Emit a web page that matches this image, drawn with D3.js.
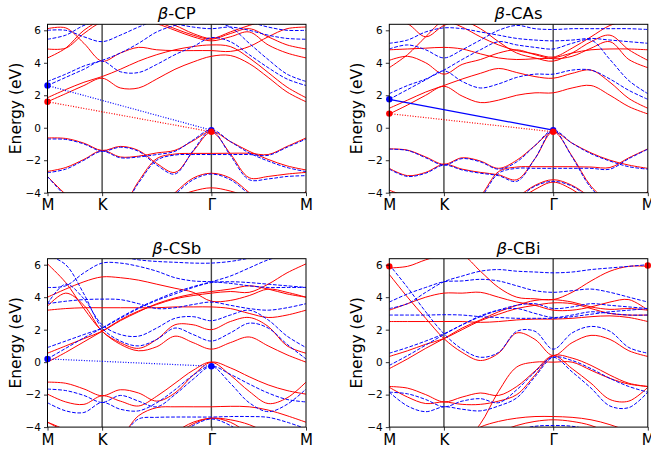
<!DOCTYPE html>
<html>
<head>
<meta charset="utf-8">
<script src="https://cdn.jsdelivr.net/npm/d3@7"></script>
<style>
  body { margin: 0; background: #fff; }
  svg { display: block; font-family: "DejaVu Sans", sans-serif; }
</style>
</head>
<body>
<div id="d3"></div>
<script>
// k-path M -> K -> Γ -> M (hexagonal BZ lengths)
const kPoints = [0, 0.1111, 0.2222, 0.3333, 0.4444, 0.5556, 0.6667, 0.7778, 0.8889, 1.0, 1.1155, 1.2309, 1.3464, 1.4619, 1.5774];
const kTicks = [0, 0.3333, 1.0, 1.5774];
const kLabels = ["M", "K", "Γ", "M"];
const energyTicks = [-4, -2, 0, 2, 4, 6];
const titles = ["CP", "CAs", "CSb", "CBi"];

// band energies (eV) at kPoints, red = solid, blue = dashed
const cpRed = [
  [-0.63, -0.66, -0.95, -1.4, -1.15, -1.4, -2.2, -2.75, -1.45, -0.25, -0.85, -1.45, -1.95, -2.35, -2.6],
  [-2.69, -2.45, -1.95, -1.4, -1.8, -1.75, -1.55, -1.39, -0.8, -0.25, -1.6, -3.08, -3.0, -2.85, -2.75],
  [-5, -5, -5, -5, -5, -3.3, -1.9, -1.62, -1.58, -1.58, -1.57, -1.57, -1.65, -1.15, -0.63],
  [-3.0, -4.1, -5, -5, -5, -5, -5, -4.0, -3.1, -2.8, -3.1, -4.0, -5, -5, -3.9],
  [-5, -5, -5, -5, -5, -5, -4.8, -4.3, -3.9, -3.7, -3.9, -4.3, -4.8, -5, -5],
  [1.6, 2.1, 2.6, 3.05, 2.45, 2.45, 3.0, 3.6, 4.05, 4.4, 4.45, 3.95, 3.1, 2.2, 1.6],
  [1.85, 2.35, 2.8, 3.15, 3.6, 4.1, 4.5, 4.8, 5.0, 5.1, 5.0, 4.3, 3.4, 2.5, 1.85],
  [4.3, 4.9, 6.0, 6.6, 6.6, 6.6, 6.4, 6.0, 5.6, 5.35, 5.6, 5.9, 5.1, 4.6, 4.3],
  [4.85, 4.9, 5.8, 6.5, 6.5, 6.5, 6.5, 6.1, 5.7, 5.45, 5.8, 6.1, 5.6, 5.1, 4.85],
  [6.1, 6.15, 5.2, 4.1, 4.6, 4.95, 4.8, 4.75, 4.75, 4.75, 4.7, 5.0, 5.6, 6.1, 6.2],
  [6.6, 6.6, 6.6, 6.6, 6.6, 6.6, 6.6, 6.3, 5.8, 5.5, 5.9, 6.3, 6.6, 6.6, 6.6]
];
const cpBlue = [
  [-0.7, -0.72, -1.0, -1.45, -1.2, -1.45, -2.3, -2.85, -1.4, -0.15, -0.85, -1.55, -2.05, -2.45, -2.7],
  [-2.77, -2.55, -2.0, -1.45, -1.85, -1.8, -1.65, -1.45, -0.75, -0.15, -1.7, -3.2, -3.15, -3.0, -2.95],
  [-5, -5, -5, -5, -5, -3.4, -2.0, -1.68, -1.65, -1.65, -1.65, -1.65, -1.7, -1.2, -0.7],
  [-3.0, -4.2, -5, -5, -5, -5, -5, -4.1, -3.2, -2.85, -3.2, -4.1, -5, -5, -5],
  [2.6, 3.1, 3.6, 4.1, 3.45, 3.4, 3.9, 4.5, 5.0, 5.55, 5.3, 4.5, 3.7, 3.0, 2.6],
  [2.85, 3.3, 3.8, 4.15, 4.6, 5.2, 5.9, 6.3, 6.5, 6.5, 6.2, 5.2, 4.2, 3.3, 2.85],
  [5.45, 5.7, 6.3, 6.6, 6.6, 6.6, 6.6, 6.4, 6.2, 6.1, 6.2, 6.0, 5.7, 5.5, 5.45],
  [6.0, 6.0, 5.6, 5.3, 5.7, 6.2, 6.6, 6.6, 6.6, 6.6, 6.6, 6.5, 6.2, 6.0, 6.0]
];

const casRed = [
  [-1.3, -1.38, -1.8, -2.25, -1.85, -2.05, -2.5, -2.0, -1.1, -0.25, -0.95, -1.55, -2.0, -2.3, -2.5],
  [-2.5, -2.95, -2.75, -2.25, -2.55, -2.75, -2.9, -3.2, -1.9, -0.25, -1.75, -3.6, -4.6, -5, -5],
  [-5, -5, -5, -5, -5, -4.2, -2.7, -2.42, -2.4, -2.4, -2.4, -2.42, -2.45, -1.85, -1.3],
  [-3.85, -4.3, -5, -5, -5, -5, -5, -4.3, -3.55, -3.2, -3.55, -4.3, -5, -5, -3.9],
  [-5, -5, -5, -5, -5, -5, -4.9, -4.5, -3.8, -3.35, -3.8, -4.6, -5, -5, -5],
  [0.85, 1.4, 2.0, 2.55, 1.95, 1.55, 1.7, 2.0, 2.15, 2.15, 2.45, 2.6, 2.0, 1.3, 0.85],
  [1.2, 1.7, 2.2, 2.6, 3.0, 3.35, 3.65, 3.4, 3.15, 3.05, 3.35, 3.55, 2.8, 1.8, 1.2],
  [3.7, 4.5, 5.6, 6.6, 6.6, 6.1, 5.3, 4.6, 4.3, 4.1, 4.6, 5.3, 5.7, 4.8, 4.15],
  [4.15, 4.4, 4.0, 3.3, 3.9, 4.2, 4.6, 4.8, 4.5, 4.25, 4.4, 4.9, 5.3, 4.2, 3.7],
  [4.8, 4.85, 4.9, 4.95, 4.85, 4.55, 4.3, 4.2, 4.25, 4.3, 4.6, 4.8, 4.85, 4.85, 4.8],
  [6.6, 6.6, 6.6, 6.6, 6.2, 5.6, 5.1, 4.75, 4.55, 4.35, 4.9, 5.6, 6.3, 6.6, 6.6],
  [6.6, 6.4, 5.6, 6.3, 6.6, 6.6, 6.6, 6.6, 6.6, 6.6, 6.6, 6.6, 6.6, 6.6, 6.6]
];
const casBlue = [
  [-1.32, -1.4, -1.85, -2.3, -1.9, -2.1, -2.55, -2.1, -1.1, -0.15, -0.95, -1.6, -2.05, -2.4, -2.55],
  [-2.55, -3.0, -2.8, -2.3, -2.6, -2.8, -2.95, -3.3, -1.9, -0.15, -1.8, -3.7, -4.7, -5, -5],
  [-5, -5, -5, -5, -5, -4.3, -2.8, -2.5, -2.5, -2.5, -2.5, -2.5, -2.55, -1.9, -1.32],
  [-5, -5, -5, -5, -5, -5, -5, -4.4, -3.6, -3.3, -3.6, -4.4, -5, -5, -5],
  [1.75, 2.35, 2.95, 3.5, 2.85, 2.45, 2.7, 3.1, 3.3, 3.3, 3.55, 3.55, 3.0, 2.3, 1.75],
  [2.1, 2.6, 3.0, 3.55, 4.2, 4.8, 5.3, 5.1, 4.95, 4.85, 5.2, 5.4, 4.2, 2.9, 2.1],
  [4.85, 5.1, 4.8, 4.3, 4.8, 5.4, 6.0, 6.3, 6.1, 6.05, 6.1, 6.1, 6.1, 6.1, 6.05],
  [5.2, 5.4, 5.9, 6.15, 6.1, 5.9, 5.7, 5.5, 5.4, 5.35, 5.4, 5.5, 5.4, 5.3, 5.2]
];

const csbRed = [
  [-1.23, -1.3, -1.65, -2.07, -1.7, -1.9, -2.4, -1.9, -0.8, 0.0, -0.35, -0.9, -1.4, -1.75, -1.97],
  [-1.97, -2.45, -2.6, -2.07, -2.4, -2.7, -2.1, -1.3, -0.5, 0.0, -0.8, -1.8, -2.55, -2.2, -1.23],
  [-3.7, -4.3, -5, -5, -4.6, -3.3, -2.8, -2.75, -2.75, -2.75, -2.72, -2.75, -2.95, -3.3, -3.7],
  [-3.7, -4.2, -5, -5, -5, -5, -5, -4.5, -3.8, -3.45, -3.7, -4.4, -5, -5, -5],
  [-5, -5, -5, -5, -5, -5, -4.9, -4.3, -3.7, -3.45, -3.55, -3.85, -4.4, -5, -5],
  [0.0, 0.6, 1.25, 1.9, 2.6, 3.15, 3.55, 3.9, 4.1, 4.25, 4.35, 4.3, 4.8, 5.5, 6.05],
  [0.55, 1.0, 1.45, 1.9, 2.55, 3.1, 3.6, 3.95, 4.2, 4.35, 4.5, 4.7, 4.5, 4.2, 4.0],
  [6.05, 4.9, 3.3, 1.9, 1.1, 0.7, 0.95, 1.6, 1.2, 0.8, 1.2, 1.55, 1.0, 0.45, 0.0],
  [3.45, 4.25, 3.5, 1.9, 1.2, 0.85, 1.4, 2.3, 2.3, 2.0, 2.5, 2.75, 2.2, 1.0, 0.55],
  [3.2, 3.3, 3.35, 3.35, 3.35, 3.35, 3.35, 3.4, 3.4, 3.4, 3.3, 3.0, 2.75, 2.9, 3.2],
  [4.0, 4.5, 4.95, 5.25, 5.2, 5.05, 4.8, 4.55, 4.3, 3.75, 3.8, 4.1, 4.5, 4.3, 4.0]
];
const csbBlue = [
  [-1.66, -1.75, -2.05, -2.48, -2.05, -2.4, -2.75, -2.0, -1.05, -0.25, -0.75, -1.35, -1.9, -2.3, -2.45],
  [-2.5, -3.0, -3.1, -2.48, -2.9, -3.0, -2.5, -1.7, -0.8, -0.25, -1.3, -2.5, -3.05, -2.6, -1.66],
  [-5, -5, -5, -5, -4.6, -3.5, -3.4, -3.38, -3.38, -3.38, -3.35, -3.35, -3.4, -3.7, -4.1],
  [-5, -5, -5, -5, -5, -5, -5, -4.6, -3.9, -3.5, -3.9, -4.7, -5, -5, -5],
  [0.2, 0.85, 1.5, 2.1, 2.75, 3.35, 3.85, 4.3, 4.65, 4.95, 5.3, 5.8, 6.3, 6.6, 6.6],
  [0.9, 1.3, 1.7, 2.1, 2.7, 3.3, 3.8, 4.2, 4.6, 4.9, 4.95, 4.9, 4.8, 4.7, 4.6],
  [6.6, 6.0, 4.2, 2.1, 1.3, 1.0, 1.4, 2.1, 1.7, 1.3, 1.8, 2.4, 2.1, 1.1, 0.2],
  [3.6, 4.8, 3.9, 2.3, 1.7, 1.6, 2.1, 2.7, 2.8, 2.55, 2.9, 3.2, 2.6, 1.6, 0.9],
  [3.6, 3.75, 3.85, 3.88, 3.85, 3.6, 3.3, 3.35, 3.55, 3.7, 3.5, 3.3, 3.2, 3.35, 3.6],
  [4.6, 4.7, 5.5, 6.1, 6.1, 5.9, 5.6, 5.2, 5.0, 4.95, 4.85, 4.7, 4.6, 4.6, 4.6],
  [6.6, 6.6, 6.6, 6.6, 6.5, 6.3, 6.2, 6.15, 6.1, 6.1, 6.2, 6.4, 6.6, 6.6, 6.6]
];

const cbiRed = [
  [-1.5, -1.6, -2.0, -2.45, -2.15, -1.9, -2.05, -1.5, -0.55, 0.4, -0.4, -1.3, -2.3, -2.4, -1.55],
  [-1.55, -2.15, -2.55, -2.45, -2.6, -2.6, -2.4, -2.0, -0.8, 0.4, 0.25, -0.2, -0.8, -1.3, -1.5],
  [-5, -5, -5, -5, -5, -3.8, -1.8, -0.3, 0.0, 0.0, 0.0, -0.5, -1.0, -1.35, -1.5],
  [-5, -5, -5, -5, -4.7, -4.0, -3.65, -3.45, -3.35, -3.35, -3.4, -3.55, -3.85, -4.3, -5],
  [-5, -5, -5, -5, -5, -4.7, -4.3, -3.9, -3.65, -3.55, -3.65, -3.9, -4.4, -5, -5],
  [5.4, 4.0, 2.7, 1.45, 0.6, 0.1, 0.55, 1.8, 1.4, 0.4, 1.2, 1.65, 1.4, 0.7, 0.35],
  [-0.4, 0.2, 0.85, 1.45, 2.1, 2.6, 3.1, 3.5, 3.8, 3.85, 3.7, 3.4, 3.25, 3.3, 3.2],
  [0.35, 0.7, 1.1, 1.45, 2.0, 2.55, 2.95, 3.3, 3.5, 3.65, 3.6, 3.3, 3.0, 2.9, 2.9],
  [2.5, 2.5, 2.5, 2.5, 2.5, 2.45, 2.5, 2.6, 2.65, 2.65, 2.7, 2.8, 2.85, 2.75, 2.5],
  [3.2, 3.6, 4.0, 4.25, 4.25, 4.3, 4.0, 3.7, 3.5, 3.2, 3.2, 3.4, 3.7, 3.85, 3.2],
  [5.8, 5.9, 6.3, 6.6, 6.6, 5.6, 4.6, 4.0, 3.9, 3.85, 4.3, 5.0, 5.6, 5.9, 5.9]
];
const cbiBlue = [
  [-1.85, -1.95, -2.3, -2.75, -2.4, -2.25, -2.5, -1.7, -0.6, 0.3, -0.6, -1.6, -2.7, -2.8, -1.85],
  [-1.85, -2.7, -3.05, -2.75, -2.9, -3.0, -2.7, -2.2, -0.9, 0.3, 0.1, -0.4, -1.0, -1.5, -1.85],
  [-5, -5, -5, -5, -5, -5, -4.7, -4.2, -3.95, -3.9, -3.95, -4.2, -4.7, -5, -5],
  [6.0, 4.6, 3.1, 1.75, 0.8, 0.3, 0.6, 1.9, 1.9, 0.8, 1.8, 2.2, 1.9, 0.9, 0.55],
  [-0.2, 0.4, 1.05, 1.7, 2.3, 2.8, 3.2, 3.5, 3.6, 3.3, 3.4, 3.6, 3.5, 3.4, 3.3],
  [0.55, 0.9, 1.3, 1.75, 2.3, 2.85, 3.2, 3.3, 3.0, 2.75, 2.9, 3.1, 3.0, 2.9, 2.9],
  [2.9, 2.9, 2.9, 2.92, 2.9, 2.8, 2.75, 2.7, 2.7, 2.7, 2.8, 2.95, 3.1, 3.2, 3.3],
  [3.7, 4.2, 4.6, 4.95, 5.0, 5.1, 5.0, 4.7, 4.4, 4.3, 4.4, 4.5, 4.3, 4.0, 3.7],
  [3.3, 3.6, 4.3, 4.95, 5.3, 5.6, 5.7, 5.6, 5.55, 5.5, 5.55, 5.7, 5.8, 5.9, 6.0]
];

// band-edge markers: [k, E] pairs joined by a line
const cpRedEdge = [[0, 1.6], [1.0, -0.25]];
const cpBlueEdge = [[0, 2.6], [1.0, -0.15]];
const casRedEdge = [[0, 0.87], [1.0, -0.25]];
const casBlueEdge = [[0, 1.75], [1.0, -0.15]];
const csbBlueEdge = [[0, 0.2], [1.0, -0.25]];
const cbiRedEdge = [[0, 5.9], [1.5774, 5.95]];

const panels = [
  { title: titles[0], red: cpRed, blue: cpBlue, left: 47.5, top: 24.3,
    edges: [{ pts: cpBlueEdge, color: "blue", dash: "1,1.6" }, { pts: cpRedEdge, color: "red", dash: "1,1.6" }] },
  { title: titles[1], red: casRed, blue: casBlue, left: 389.3, top: 24.3,
    edges: [{ pts: casBlueEdge, color: "blue", dash: null }, { pts: casRedEdge, color: "red", dash: "1,1.6" }] },
  { title: titles[2], red: csbRed, blue: csbBlue, left: 47.5, top: 258.7,
    edges: [{ pts: csbBlueEdge, color: "blue", dash: "1,1.6" }] },
  { title: titles[3], red: cbiRed, blue: cbiBlue, left: 389.3, top: 258.7,
    edges: [{ pts: cbiRedEdge, color: "red", dash: "none", noLine: true }] }
];

const W = 651, H = 452;
const pw = 258.5, ph = 168.4;

const svg = d3.select("#d3").append("svg").attr("width", W).attr("height", H);

panels.forEach((p, i) => {
  const g = svg.append("g").attr("transform", `translate(${p.left},${p.top})`);
  const x = d3.scaleLinear().domain([0, kTicks[3]]).range([0, pw]);
  const y = d3.scaleLinear().domain([-4, 6.37]).range([ph, 0]);

  const clipId = "clip" + i;
  g.append("clipPath").attr("id", clipId).append("rect").attr("width", pw).attr("height", ph);
  const plot = g.append("g").attr("clip-path", `url(#${clipId})`);

  // high-symmetry lines
  plot.selectAll(".kline").data(kTicks.slice(1, 3)).enter().append("line")
    .attr("x1", d => x(d)).attr("x2", d => x(d))
    .attr("y1", 0).attr("y2", ph)
    .attr("stroke", "#444").attr("stroke-width", 1.4);

  const line = d3.line().x((d, j) => x(kPoints[j])).y(d => y(d)).curve(d3.curveCatmullRom.alpha(0.5));

  plot.selectAll(".red").data(p.red).enter().append("path")
    .attr("d", line).attr("fill", "none").attr("stroke", "red").attr("stroke-width", 1);

  plot.selectAll(".blue").data(p.blue).enter().append("path")
    .attr("d", line).attr("fill", "none").attr("stroke", "blue").attr("stroke-width", 1)
    .attr("stroke-dasharray", "3.7,1.6");

  p.edges.forEach(e => {
    if (!e.noLine) {
      plot.append("line")
        .attr("x1", x(e.pts[0][0])).attr("y1", y(e.pts[0][1]))
        .attr("x2", x(e.pts[1][0])).attr("y2", y(e.pts[1][1]))
        .attr("stroke", e.color).attr("stroke-width", 1.2)
        .attr("stroke-dasharray", e.dash);
    }
    g.selectAll(null).data(e.pts).enter().append("circle")
      .attr("cx", d => x(d[0])).attr("cy", d => y(d[1]))
      .attr("r", 3.2).attr("fill", e.color);
  });

  // frame
  g.append("rect").attr("width", pw).attr("height", ph)
    .attr("fill", "none").attr("stroke", "black").attr("stroke-width", 1);

  // y axis
  const ya = g.append("g").call(d3.axisLeft(y).tickValues(energyTicks).tickSize(3.5)
    .tickFormat(d => d < 0 ? "\u2212" + Math.abs(d) : d));
  ya.select(".domain").remove();
  ya.selectAll("text").attr("font-size", 10.5).attr("font-family", "DejaVu Sans").attr("fill", "#000");
  ya.selectAll("line").attr("stroke-width", 0.8);

  // x axis
  const xa = g.append("g").attr("transform", `translate(0,${ph})`)
    .call(d3.axisBottom(x).tickValues(kTicks).tickSize(3.5).tickFormat((d, j) => kLabels[j]));
  xa.select(".domain").remove();
  xa.selectAll("text").attr("font-size", 15).attr("font-family", "DejaVu Sans").attr("fill", "#000").attr("dy", "0.75em");
  xa.selectAll("line").attr("stroke-width", 0.8);

  // y label
  g.append("text").attr("transform", `translate(${-27},${ph / 2}) rotate(-90)`)
    .attr("text-anchor", "middle").attr("font-size", 15.5).text("Energy (eV)");

  // title
  const t = g.append("text").attr("x", pw / 2).attr("y", -5)
    .attr("text-anchor", "middle").attr("font-size", 16.5);
  t.append("tspan").attr("font-style", "italic").text("β");
  t.append("tspan").text("-" + p.title);
});
</script>
</body>
</html>
